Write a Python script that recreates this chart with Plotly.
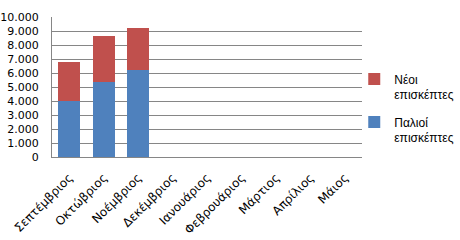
import plotly.graph_objects as go

months = ["Σεπτέμβριος", "Οκτώβριος", "Νοέμβριος", "Δεκέμβριος", "Ιανουάριος",
          "Φεβρουάριος", "Μάρτιος", "Απρίλιος", "Μάιος"]
old_visitors = [4000, 5380, 6240, None, None, None, None, None, None]
new_visitors = [2800, 3260, 2970, None, None, None, None, None, None]
y_ticks = [0, 1000, 2000, 3000, 4000, 5000, 6000, 7000, 8000, 9000, 10000]
y_tick_labels = ["0", "1.000", "2.000", "3.000", "4.000", "5.000", "6.000",
                 "7.000", "8.000", "9.000", "10.000"]

fig = go.Figure()
fig.add_trace(go.Bar(x=months, y=old_visitors, name="Παλιοί<br>επισκέπτες",
                     legendgroup="old", legendrank=2,
                     marker=dict(color="#4F81BD", line=dict(width=0))))
fig.add_trace(go.Bar(x=months, y=new_visitors, name="Νέοι<br>επισκέπτες",
                     legendgroup="new", legendrank=1,
                     marker=dict(color="#C0504D", line=dict(width=0))))

fig.update_layout(
    barmode="stack",
    bargap=0.36,
    width=460, height=240,
    margin=dict(l=52, r=98, t=17, b=83, autoexpand=False),
    paper_bgcolor="white", plot_bgcolor="white",
    font=dict(family="DejaVu Sans", size=11, color="#000000"),
    legend=dict(x=0.975, y=0.66, xanchor="left", yanchor="top",
                traceorder="grouped", valign="top",
                font=dict(size=12, color="#000000", family="Liberation Sans"),
                itemwidth=30, bgcolor="rgba(0,0,0,0)", tracegroupgap=9),
    xaxis=dict(tickangle=-45, showline=True, linecolor="#868686", linewidth=1,
               ticks="", showgrid=False, tickfont=dict(size=12),
               ticklabelstandoff=8, automargin=False),
    yaxis=dict(range=[0, 10000], tickvals=y_ticks, ticktext=y_tick_labels,
               showgrid=True, gridcolor="#868686", gridwidth=1,
               showline=True, linecolor="#868686", linewidth=1,
               ticks="", zeroline=False, tickfont=dict(size=11),
               ticklabelstandoff=10, automargin=False),
)

fig.write_html("out.html")
